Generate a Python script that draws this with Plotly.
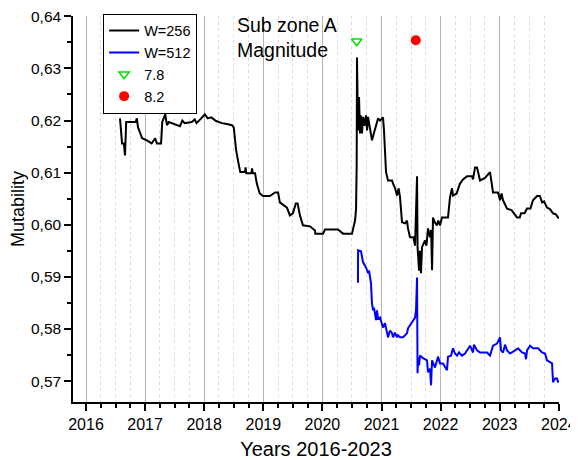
import plotly.graph_objects as go

# W=256 series (black)
w256_years = [2016.575, 2016.61, 2016.64, 2016.66, 2016.68, 2016.84, 2016.86, 2016.88, 2016.95, 2017.03,
              2017.11, 2017.17, 2017.20, 2017.27, 2017.29, 2017.34, 2017.37, 2017.40, 2017.59, 2017.63,
              2017.67, 2017.79, 2017.84, 2017.87, 2017.95, 2018.01, 2018.06, 2018.12, 2018.20, 2018.30,
              2018.40, 2018.47, 2018.50, 2018.52, 2018.54, 2018.57, 2018.61, 2018.69, 2018.70, 2018.71,
              2018.80, 2018.81, 2018.82, 2018.86, 2018.89, 2018.94, 2018.995, 2019.11, 2019.20, 2019.25,
              2019.28, 2019.40, 2019.45, 2019.50, 2019.55, 2019.58, 2019.62, 2019.67, 2019.79, 2019.875,
              2019.88, 2020.01, 2020.044, 2020.264, 2020.30, 2020.349, 2020.50, 2020.552, 2020.569, 2020.58,
              2020.585, 2020.602, 2020.619, 2020.636, 2020.65, 2020.67, 2020.687, 2020.71, 2020.738, 2020.755,
              2020.772, 2020.80, 2020.839, 2020.87, 2020.89, 2020.924, 2020.941, 2020.975, 2021.008, 2021.025,
              2021.042, 2021.076, 2021.11, 2021.178, 2021.195, 2021.23, 2021.262, 2021.29, 2021.313, 2021.347,
              2021.398, 2021.431, 2021.448, 2021.482, 2021.54, 2021.567, 2021.601, 2021.61, 2021.635, 2021.65,
              2021.668, 2021.685, 2021.736, 2021.76, 2021.787, 2021.821, 2021.84, 2021.855, 2021.871, 2021.90,
              2021.939, 2021.96, 2021.99, 2022.024, 2022.125, 2022.159, 2022.193, 2022.21, 2022.27, 2022.328,
              2022.379, 2022.447, 2022.531, 2022.548, 2022.582, 2022.616, 2022.667, 2022.751, 2022.836, 2022.887,
              2022.971, 2023.005, 2023.03, 2023.056, 2023.124, 2023.20, 2023.293, 2023.34, 2023.36, 2023.42,
              2023.462, 2023.52, 2023.563, 2023.631, 2023.68, 2023.716, 2023.75, 2023.80, 2023.85, 2023.902,
              2023.95, 2024.0]
w256_values = [0.6204, 0.6156, 0.6156, 0.6133, 0.6197, 0.6197, 0.6204, 0.6187, 0.6166, 0.6162,
               0.6156, 0.6166, 0.6156, 0.6156, 0.6197, 0.6212, 0.6191, 0.6197, 0.6189, 0.6200,
               0.6195, 0.6197, 0.6202, 0.6195, 0.6204, 0.6212, 0.6204, 0.6206, 0.6199, 0.6195,
               0.6193, 0.6191, 0.6187, 0.6160, 0.6143, 0.6124, 0.6101, 0.6101, 0.6110, 0.6099,
               0.6099, 0.6108, 0.6099, 0.6099, 0.6079, 0.6060, 0.6055, 0.6055, 0.6062, 0.6062,
               0.6043, 0.6033, 0.6018, 0.6022, 0.6041, 0.6041, 0.6018, 0.5999, 0.5997, 0.5989,
               0.5983, 0.5983, 0.5991, 0.5991, 0.5988, 0.5983, 0.5983, 0.6008, 0.6030, 0.6115,
               0.6321, 0.6181, 0.6245, 0.6175, 0.6210, 0.6175, 0.6207, 0.6190, 0.6210, 0.6181,
               0.6207, 0.6190, 0.6162, 0.6175, 0.6183, 0.6201, 0.6204, 0.6200, 0.6203, 0.6206,
               0.6181, 0.6101, 0.6085, 0.6085, 0.6079, 0.6070, 0.6056, 0.6070, 0.6053, 0.6005,
               0.6003, 0.6008, 0.5993, 0.5976, 0.5976, 0.5960, 0.6093, 0.5957, 0.5912, 0.5950,
               0.5907, 0.5957, 0.5970, 0.5960, 0.5993, 0.5976, 0.5990, 0.5913, 0.6014, 0.6005,
               0.5999, 0.6008, 0.5999, 0.6014, 0.6014, 0.6053, 0.6070, 0.6056, 0.6060, 0.6079,
               0.6087, 0.6093, 0.6093, 0.6087, 0.6110, 0.6110, 0.6085, 0.6090, 0.6101, 0.6062,
               0.6062, 0.6047, 0.6060, 0.6047, 0.6031, 0.6028, 0.6014, 0.6014, 0.6022, 0.6022,
               0.6031, 0.6031, 0.6047, 0.6055, 0.6055, 0.6043, 0.6045, 0.6033, 0.6030, 0.6022,
               0.6020, 0.6012]

# W=512 series (blue)
w512_years = [2020.602, 2020.603, 2020.653, 2020.687, 2020.738, 2020.772, 2020.789, 2020.822, 2020.839, 2020.856,
              2020.873, 2020.907, 2020.924, 2020.941, 2020.975, 2021.008, 2021.025, 2021.059, 2021.093, 2021.110,
              2021.144, 2021.178, 2021.195, 2021.228, 2021.262, 2021.279, 2021.313, 2021.364, 2021.431, 2021.448,
              2021.516, 2021.567, 2021.584, 2021.601, 2021.610, 2021.618, 2021.635, 2021.651, 2021.702, 2021.770,
              2021.787, 2021.821, 2021.838, 2021.855, 2021.905, 2021.956, 2021.990, 2022.041, 2022.108, 2022.125,
              2022.176, 2022.210, 2022.244, 2022.278, 2022.311, 2022.362, 2022.413, 2022.464, 2022.498, 2022.548,
              2022.565, 2022.616, 2022.667, 2022.785, 2022.836, 2022.887, 2022.954, 2023.005, 2023.022, 2023.056,
              2023.090, 2023.124, 2023.174, 2023.259, 2023.310, 2023.377, 2023.428, 2023.445, 2023.462, 2023.513,
              2023.563, 2023.648, 2023.716, 2023.766, 2023.800, 2023.885, 2023.902, 2023.936, 2023.970, 2023.986,
              2024.0]
w512_values = [0.5889, 0.5951, 0.5949, 0.5928, 0.5918, 0.5907, 0.5912, 0.5888, 0.5849, 0.5836,
               0.5841, 0.5817, 0.5836, 0.5820, 0.5822, 0.5811, 0.5803, 0.5811, 0.5788, 0.5784,
               0.5797, 0.5792, 0.5784, 0.5793, 0.5784, 0.5788, 0.5784, 0.5784, 0.5792, 0.5801,
               0.5813, 0.5822, 0.5836, 0.5899, 0.5715, 0.5745, 0.5730, 0.5749, 0.5744, 0.5740,
               0.5717, 0.5724, 0.5692, 0.5740, 0.5726, 0.5747, 0.5734, 0.5734, 0.5721, 0.5747,
               0.5749, 0.5763, 0.5753, 0.5749, 0.5755, 0.5749, 0.5753, 0.5763, 0.5768, 0.5755,
               0.5770, 0.5759, 0.5755, 0.5755, 0.5749, 0.5768, 0.5772, 0.5784, 0.5759, 0.5755,
               0.5770, 0.5759, 0.5753, 0.5759, 0.5763, 0.5755, 0.5753, 0.5742, 0.5759, 0.5768,
               0.5763, 0.5763, 0.5755, 0.5753, 0.5740, 0.5734, 0.5698, 0.5705, 0.5705, 0.5698,
               0.5701]

# Earthquake magnitude markers
eq78_year = [2020.58]
eq78_value = [0.6352]
eq82_year = [2021.58]
eq82_value = [0.6354]

year_ticks = [2016, 2017, 2018, 2019, 2020, 2021, 2022, 2023, 2024]

FONT = "Liberation Sans, Arial, sans-serif"

fig = go.Figure()
fig.add_trace(go.Scatter(x=w256_years, y=w256_values, mode="lines", name="W=256",
                         line=dict(color="black", width=2)))
fig.add_trace(go.Scatter(x=w512_years, y=w512_values, mode="lines", name="W=512",
                         line=dict(color="#0000ff", width=2)))
fig.add_trace(go.Scatter(x=eq78_year, y=eq78_value, mode="markers", name="7.8",
                         marker=dict(symbol="triangle-down-open", size=9, color="#00e000",
                                     line=dict(width=1.5, color="#00e000"))))
fig.add_trace(go.Scatter(x=eq82_year, y=eq82_value, mode="markers", name="8.2",
                         marker=dict(symbol="circle", size=10, color="#ff0000")))

fig.add_annotation(text="Sub zone A<br>Magnitude", xref="paper", yref="paper",
                   x=0.334, y=1.01, xanchor="left", yanchor="top", align="left",
                   showarrow=False, font=dict(family=FONT, size=19.5, color="black"))

# The page body adds an 8px offset, so the figure is sized to the remaining area
fig.update_layout(
    width=570, height=452,
    margin=dict(l=65, r=19, t=8, b=58, autoexpand=False),
    paper_bgcolor="white", plot_bgcolor="white",
    separators=",.",
    font=dict(family=FONT, color="black"),
    showlegend=True,
    legend=dict(x=0.062, y=1.006, xanchor="left", yanchor="top",
                bordercolor="black", borderwidth=1, bgcolor="white",
                font=dict(family=FONT, size=14.5), itemwidth=30, tracegroupgap=0),
    xaxis=dict(range=[2015.78, 2024.003], tickvals=year_ticks, ticktext=[str(y) for y in year_ticks],
               ticks="outside", ticklen=7, tickwidth=1.5, tickcolor="black",
               showline=True, linecolor="black", linewidth=1.5,
               showgrid=True, gridcolor="#b4b4b4", gridwidth=1,
               zeroline=False, automargin=False, ticklabeloverflow="allow",
               minor=dict(dtick=0.25, tick0=2016, ticks="outside", ticklen=4, tickcolor="black",
                          showgrid=True, gridcolor="#dcdcdc", griddash="dot", gridwidth=1),
               tickfont=dict(family=FONT, size=16),
               title=dict(text="Years 2016-2023", font=dict(family=FONT, size=20), standoff=10)),
    yaxis=dict(range=[0.566, 0.64005], dtick=0.01, tick0=0.57, tickformat=".2f",
               ticks="outside", ticklen=7, tickwidth=1.5, tickcolor="black",
               showline=True, linecolor="black", linewidth=1.5,
               showgrid=False, zeroline=False, automargin=False, ticklabeloverflow="allow",
               minor=dict(dtick=0.005, ticks="outside", ticklen=4, tickcolor="black", showgrid=False),
               tickfont=dict(family=FONT, size=15.5),
               title=dict(text="Mutability", font=dict(family=FONT, size=18), standoff=8)),
)

fig.write_html("out.html")
